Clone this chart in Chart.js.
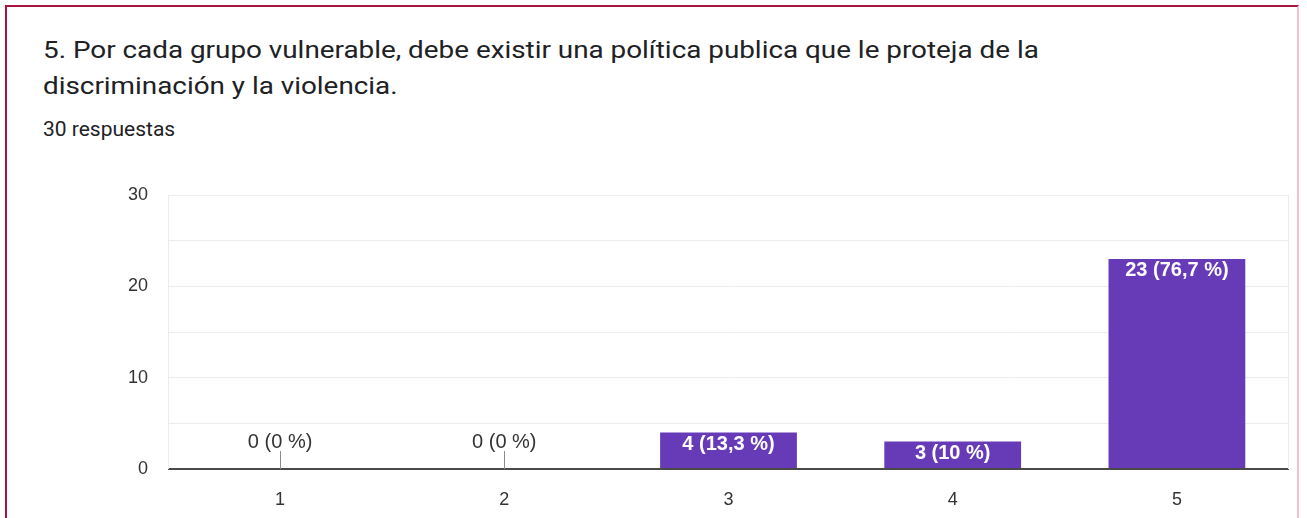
<!DOCTYPE html>
<html>
<head>
<meta charset="utf-8">
<script src="https://cdn.jsdelivr.net/npm/chart.js@4"></script>
<style>
  body { margin: 0; background: #fff; width: 1307px; height: 518px; overflow: hidden; position: relative; }
  #frame { position: absolute; left: 5px; top: 5px; width: 1290px; height: 600px;
           border-left: 2px solid #a8123f; border-top: 2px solid #a8123f; border-right: 2px solid #efc3d1; }
  #title { position: absolute; left: 43px; top: 32px; font-family: Roboto, sans-serif; font-size: 24px;
           line-height: 36px; color: #202124; white-space: nowrap; transform: scaleX(1.16); transform-origin: 0 0; }
  #sub { position: absolute; left: 43px; top: 117px; font-family: Roboto, sans-serif; font-size: 21px; color: #202124; }
  canvas { position: absolute; left: 0; top: 0; }
</style>
</head>
<body>
<div id="frame"></div>
<div id="title">5. Por cada grupo vulnerable, debe existir una política publica que le proteja de la<br>discriminación y la violencia.</div>
<div id="sub">30 respuestas</div>
<canvas id="chart" width="1307" height="518"></canvas>
<script>
// data
const categories = ['1', '2', '3', '4', '5'];
const counts = [0, 0, 4, 3, 23];
const percentLabels = ['0 %', '0 %', '13,3 %', '10 %', '76,7 %'];
const yTicks = [0, 10, 20, 30];

const barColor = '#673ab7';

// labels "n (p %)" on bars; zero bars get a label above the axis with a small stem
const barLabels = {
    id: 'barLabels',
    afterDatasetsDraw(chart) {
        const ctx = chart.ctx;
        const meta = chart.getDatasetMeta(0);
        ctx.save();
        ctx.textAlign = 'center';
        ctx.textBaseline = 'middle';
        meta.data.forEach((bar, i) => {
            const text = counts[i] + ' (' + percentLabels[i] + ')';
            if (counts[i] === 0) {
                const base = chart.scales.y.getPixelForValue(0);
                ctx.strokeStyle = '#8a8a8a';
                ctx.lineWidth = 1;
                ctx.beginPath();
                ctx.moveTo(Math.round(bar.x) + 0.5, base - 18);
                ctx.lineTo(Math.round(bar.x) + 0.5, base);
                ctx.stroke();
                ctx.fillStyle = '#333';
                ctx.font = '20px "Liberation Sans", Arial, sans-serif';
                ctx.fillText(text, bar.x, base - 27);
            } else {
                ctx.fillStyle = '#fff';
                ctx.font = 'bold 20px "Liberation Sans", Arial, sans-serif';
                ctx.fillText(text, bar.x, bar.y + 12);
            }
        });
        ctx.restore();
    }
};

// light frame on left/right of plot
const plotFrame = {
    id: 'plotFrame',
    beforeDatasetsDraw(chart) {
        const a = chart.chartArea;
        const ctx = chart.ctx;
        ctx.save();
        ctx.strokeStyle = '#ececec';
        ctx.lineWidth = 1;
        ctx.beginPath();
        ctx.moveTo(a.left + 0.5, a.top);
        ctx.lineTo(a.left + 0.5, a.bottom);
        ctx.moveTo(a.right - 0.5, a.top);
        ctx.lineTo(a.right - 0.5, a.bottom);
        ctx.stroke();
        ctx.restore();
    }
};

new Chart(document.getElementById('chart').getContext('2d'), {
    type: 'bar',
    data: {
        labels: categories,
        datasets: [{
            data: counts,
            backgroundColor: barColor,
            borderWidth: 0,
            categoryPercentage: 0.61,
            barPercentage: 1
        }]
    },
    options: {
        responsive: false,
        animation: false,
        devicePixelRatio: 1,
        layout: { padding: { top: 195, right: 18, left: 0, bottom: 0 } },
        plugins: { legend: { display: false }, tooltip: { enabled: false }, title: { display: false } },
        scales: {
            x: {
                grid: { display: false },
                border: { display: false },
                ticks: { color: '#333', padding: 12, font: { family: '"Liberation Sans", Arial, sans-serif', size: 18 } },
                afterFit(scale) { scale.height = 49; }
            },
            y: {
                min: 0,
                max: 30,
                ticks: {
                    stepSize: 5,
                    padding: 20,
                    color: '#333',
                    font: { family: '"Liberation Sans", Arial, sans-serif', size: 18 },
                    callback: v => yTicks.includes(v) ? v : ''
                },
                grid: {
                    drawTicks: false,
                    color: c => c.tick.value === 0 ? '#4a4a4a' : '#ececec',
                    lineWidth: c => c.tick.value === 0 ? 2 : 1
                },
                border: { display: false },
                afterFit(scale) { scale.width = 168; }
            }
        }
    },
    plugins: [plotFrame, barLabels]
});
</script>
</body>
</html>
